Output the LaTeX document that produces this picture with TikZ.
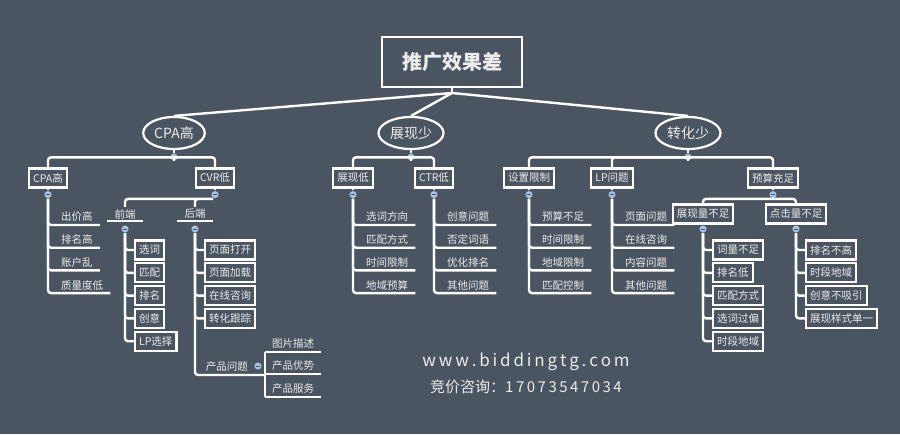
\documentclass[tikz,border=0pt]{standalone}
\usepackage{fontspec}
\setmainfont{Noto Sans CJK SC}
\newfontfamily\cjk{Noto Sans CJK SC}
\usetikzlibrary{shapes.geometric}
\definecolor{bg}{HTML}{4A5561}
\definecolor{knobc}{HTML}{A9C3E6}
\definecolor{txt}{HTML}{ECECEC}
\tikzset{
 conn/.style={draw=white, line width=2.4pt, rounded corners=3pt},
 boxn/.style={draw=white, line width=2.2pt, fill=bg, text=txt, font=\fontsize{10.5}{12}\selectfont, inner xsep=4pt, inner ysep=0pt, minimum height=19pt},
 ell/.style={ellipse, draw=white, line width=2.2pt, fill=bg, text=txt, font=\fontsize{14}{16}\selectfont, inner xsep=2pt, minimum height=32pt},
 itemn/.style={text=txt, font=\fontsize{10.5}{12}\selectfont, inner xsep=7pt, inner ysep=3pt, anchor=south west},
 knob/.style={circle, fill=knobc, draw=bg, line width=0.6pt, minimum size=8pt, inner sep=0pt, path picture={\draw[bg, line width=0.8pt] ([xshift=-2pt]path picture bounding box.center) -- ([xshift=2pt]path picture bounding box.center);}},
}
\begin{document}
\begin{tikzpicture}[x=1pt,y=-1pt]
\fill[bg] (0,0) rectangle (900,434);
\useasboundingbox (0,0) rectangle (900,434);
% root
\node[draw=white, line width=2.6pt, fill=bg, text=txt, font=\fontsize{20}{24}\bfseries\selectfont, minimum width=140pt, minimum height=50pt] (root) at (452,62) {推广效果差};
\coordinate (rj) at (452,93);
\node[ell, minimum width=56pt] (e1) at (174,133) {CPA高};
\node[ell, minimum width=58pt] (e2) at (411,133) {展现少};
\node[ell, minimum width=58pt] (e3) at (688,133) {转化少};
\draw[conn] (root.south) -- (rj);
\draw[conn] (rj) -- (e1.north);
\draw[conn] (rj) -- (e2.north);
\draw[conn] (rj) -- (e3.north);
% level 2
\node[boxn] (a1) at (48,178) {CPA高};
\node[boxn] (a2) at (215,178) {CVR低};
\node[boxn] (b1) at (353,178) {展现低};
\node[boxn] (b2) at (434,178) {CTR低};
\node[boxn] (c1) at (529,178) {设置限制};
\node[boxn] (c2) at (612,178) {LP问题};
\node[boxn] (c3) at (773,178) {预算充足};
\node[knob] (ke1) at (174,157) {};
\node[knob] (ke2) at (411,157) {};
\node[knob] (ke3) at (688,157) {};
\draw[conn] (e1.south) -- (ke1);
\draw[conn] (e2.south) -- (ke2);
\draw[conn] (e3.south) -- (ke3);
\draw[conn] (a1.north) |- ([yshift=4pt]ke1.south) -| (a2.north);
\draw[conn] (ke1) -- ([yshift=4pt]ke1.south);
\draw[conn] (b1.north) |- ([yshift=4pt]ke2.south) -| (b2.north);
\draw[conn] (ke2) -- ([yshift=4pt]ke2.south);
\draw[conn] (c1.north) |- ([yshift=4pt]ke3.south) -| (c3.north);
\draw[conn] (c2.north) |- ([yshift=4pt]ke3.south);
\draw[conn] (ke3) -- ([yshift=4pt]ke3.south);
% knobs under level 2
\foreach \n in {a1,a2,b1,b2,c1,c2,c3}{ \node[knob] (k\n) at ([yshift=-6pt]\n.south) {}; \draw[conn] (\n.south) -- (k\n.north); }
% underlined lists
\newcommand\ulist[3]{% knob name, prefix, list
 \foreach \t [count=\i] in {#3}{
  \pgfmathsetmacro\yy{225+(\i-1)*22.7}
  \node[itemn] (#2\i) at ([xshift=6pt]#1.center |- 0,\yy) {\t};
  \draw[conn] (#1.south) |- (#2\i.south east);
 }}
\ulist{ka1}{pa}{出价高,排名高,账户乱,质量度低}
\ulist{kb1}{pb}{选词方向,匹配方式,时间限制,地域预算}
\ulist{kb2}{pc}{创意问题,否定词语,优化排名,其他问题}
\ulist{kc1}{pd}{预算不足,时间限制,地域限制,匹配控制}
\ulist{kc2}{pe}{页面问题,在线咨询,内容问题,其他问题}
% CVR branch
\node[itemn, anchor=center, inner ysep=2pt] (qd) at (125,214) {前端};
\node[itemn, anchor=center, inner ysep=2pt] (hd) at (195,214) {后端};
\draw[conn] (qd.south west) -- (qd.south east);
\draw[conn] (hd.south west) -- (hd.south east);
\draw[conn] (qd.north) |- (ka2.south) -| (hd.north);
\node[knob] (kqd) at (125,229) {};
\node[knob] (khd) at (195,229) {};
\newcommand\blist[3]{%
 \foreach \t [count=\i] in {#3}{
  \pgfmathsetmacro\yy{250+(\i-1)*22.8}
  \node[boxn, anchor=west] (#2\i) at ([xshift=9pt]#1.center |- 0,\yy) {\t};
  \draw[conn] (#1.south) |- (#2\i.west);
 }}
\blist{kqd}{fa}{选词,匹配,排名,创意,LP选择}
\blist{khd}{fb}{页面打开,页面加载,在线咨询,转化跟踪}
\node[itemn, anchor=south east, inner xsep=18pt] (cp) at (266,375) {产品问题};
\draw[conn] (khd.south) |- (cp.south east);
\node[knob] (kcp) at (258,366) {};
\node[itemn] (cp1) at (265,352) {图片描述};
\node[itemn] (cp2) at (265,374) {产品优势};
\node[itemn] (cp3) at (265,397) {产品服务};
\draw[conn] (cp1.south west) -- (cp3.south west);
\foreach \n in {cp1,cp2,cp3}{\draw[conn] (\n.south west) -- (\n.south east);}
% 预算充足 branch
\node[boxn] (zx) at (703,214) {展现量不足};
\node[boxn] (dj) at (796,214) {点击量不足};
\draw[conn] (zx.north) |- (kc3.south) -| (dj.north);
\node[knob] (kzx) at (703,229) {};
\node[knob] (kdj) at (796,229) {};
\blist{kzx}{ga}{词量不足,排名低,匹配方式,选词过偏,时段地域}
\blist{kdj}{gb}{排名不高,时段地域,创意不吸引,展现样式单一}
% footer
\node[text=txt, font=\fontsize{17}{20}\selectfont] (w1) at (526,362) {w\,w\,w\,.\,b\,i\,d\,d\,i\,n\,g\,t\,g\,.\,c\,o\,m};
\node[text=txt, font=\fontsize{15}{18}\selectfont] (w2) at (526,387) {竞价咨询：1\,7\,0\,7\,3\,5\,4\,7\,0\,3\,4};
\end{tikzpicture}
\end{document}
